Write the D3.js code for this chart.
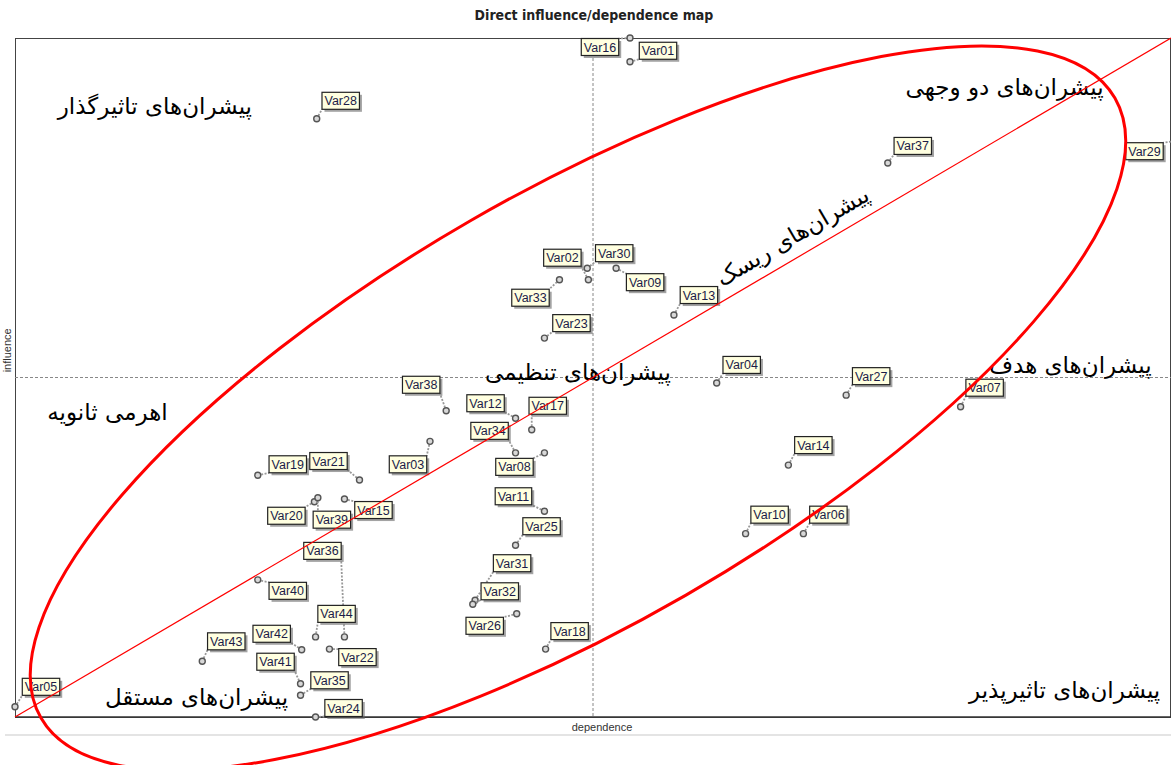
<!DOCTYPE html>
<html lang="fa">
<head>
<meta charset="UTF-8">
<title>Direct influence/dependence map</title>
<script src="https://d3js.org/d3.v7.min.js"></script>
<style>
  html, body { margin: 0; padding: 0; background: #fff; overflow: hidden; }
  svg { display: block; }
  .title { font-family: 'Liberation Sans Narrow', 'Arial Narrow', 'DejaVu Sans Condensed', sans-serif; font-weight: bold; font-size: 14px; fill: #222; }
  .axis-name { font-family: 'Liberation Sans', Arial, sans-serif; font-size: 11px; fill: #333; }
  .var-label { font-family: 'Liberation Sans', Arial, sans-serif; font-size: 12.5px; fill: #1c1c48; }
  .zone { font-family: 'DejaVu Sans', sans-serif; font-size: 23px; fill: #000; }
</style>
</head>
<body>
<div id="chart"></div>
<script>
// variables of the MICMAC direct map
const variables = ['Var01','Var02','Var03','Var04','Var05','Var06','Var07','Var08','Var09','Var10',
  'Var11','Var12','Var13','Var14','Var15','Var16','Var17','Var18','Var19','Var20',
  'Var21','Var22','Var23','Var24','Var25','Var26','Var27','Var28','Var29','Var30',
  'Var31','Var32','Var33','Var34','Var35','Var36','Var37','Var38','Var39','Var40',
  'Var41','Var42','Var43','Var44'];
// dependence (x), scaled 0-100
const dependence = [53.2, 49.6, 35.9, 60.7, 0.0, 68.2, 81.8, 45.8, 52.0, 63.2,
  45.8, 43.3, 57.0, 66.9, 28.5, 53.2, 44.7, 45.9, 21.0, 25.9,
  29.8, 27.2, 45.8, 26.0, 43.3, 43.4, 71.9, 26.1, 100.3, 49.5,
  39.8, 39.6, 47.1, 43.3, 24.7, 28.5, 75.5, 37.3, 26.2, 21.0,
  24.7, 24.8, 16.2, 26.0];
// influence (y), scaled 0-100
const influence = [96.5, 64.4, 40.6, 49.2, 1.5, 27.0, 45.7, 38.9, 66.1, 27.0,
  30.3, 44.0, 59.2, 37.1, 32.1, 100.0, 42.3, 10.0, 35.6, 31.7,
  34.9, 10.0, 55.8, 0.0, 25.3, 15.2, 47.4, 88.1, 84.8, 66.1,
  17.2, 16.6, 64.4, 38.9, 3.2, 11.8, 81.6, 45.1, 32.3, 20.2,
  4.9, 9.9, 8.2, 11.8];
const meanDependence = 50;
const meanInfluence = 50;

// where each tag sits relative to its point (px)
const labelOffsets = [[28,-11],[-26,-22],[-22,23],[25,-18],[26,-20],[25,-19],[24,-19],[-30,14],[29,14],[24,-19],
  [-31,-15],[-30,-15],[25,-20],[25,-20],[29,11],[-30,9],[16,-24],[24,-18],[30,-11],[-28,14],
  [-31,-19],[28,8],[27,-15],[28,-9],[26,-19],[-32,12],[25,-19],[24,-18],[-30,10],[27,-15],
  [37,-37],[27,-13],[-29,18],[-26,-22],[29,-15],[-22,-86],[25,-17],[-25,-26],[14,22],[30,11],
  [-25,-22],[-30,-16],[24,-20],[21,-23]];

// zone names written on the map
const zoneNames = ['پیشران\u200cهای تاثیرگذار', 'پیشران\u200cهای دو وجهی', 'پیشران\u200cهای ریسک',
  'پیشران\u200cهای تنظیمی', 'پیشران\u200cهای هدف', 'اهرمی ثانویه',
  'پیشران\u200cهای مستقل', 'پیشران\u200cهای تاثیرپذیر'];
const zoneDependence = [12.1, 85.6, 67.6, 48.7, 91.3, 8.0, 15.7, 90.8];
const zoneInfluence = [88.8, 91.6, 69.8, 49.6, 50.7, 43.7, 1.8, 2.8];

const width = 1171, height = 765;
const margin = { top: 38, right: 0, bottom: 48, left: 15 };

const svg = d3.select('#chart').append('svg')
  .attr('width', width)
  .attr('height', height);

const x = d3.scaleLinear().domain([0, 100]).range([margin.left, width - margin.right]);
const y = d3.scaleLinear().domain([0, 100]).range([height - margin.bottom, margin.top]);

// title
svg.append('text')
  .attr('class', 'title')
  .attr('x', 594).attr('y', 20)
  .attr('text-anchor', 'middle')
  .text('Direct influence/dependence map');

// plot frame
svg.append('rect')
  .attr('x', x(0) + 0.5).attr('y', y(100) + 0.5)
  .attr('width', x(100) - x(0) - 1).attr('height', y(0) - y(100))
  .attr('fill', 'none').attr('stroke', '#444').attr('stroke-width', 1);
svg.append('line')
  .attr('x1', x(0)).attr('x2', x(100))
  .attr('y1', y(0)).attr('y2', y(0))
  .attr('stroke', '#333').attr('stroke-width', 1.5);

// axis names
svg.append('text')
  .attr('class', 'axis-name')
  .attr('x', x(meanDependence) + 9).attr('y', y(0) + 14)
  .attr('text-anchor', 'middle')
  .text('dependence');
svg.append('text')
  .attr('class', 'axis-name')
  .attr('transform', `translate(11,${y(54)}) rotate(-90)`)
  .attr('text-anchor', 'middle')
  .text('influence');

svg.append('line')
  .attr('x1', 5).attr('x2', width)
  .attr('y1', y(0) + 18).attr('y2', y(0) + 18)
  .attr('stroke', '#e4e4e4').attr('stroke-width', 2);

// mean lines
svg.append('line')
  .attr('x1', x(meanDependence)).attr('x2', x(meanDependence))
  .attr('y1', y(100)).attr('y2', y(0))
  .attr('stroke', '#888').attr('stroke-dasharray', '3,2');
svg.append('line')
  .attr('x1', x(0)).attr('x2', x(100))
  .attr('y1', y(meanInfluence)).attr('y2', y(meanInfluence))
  .attr('stroke', '#888').attr('stroke-dasharray', '3,2');

// zone names
const diagAngle = Math.atan2(y(100) - y(0), x(100) - x(0)) * 180 / Math.PI;
zoneNames.forEach((name, i) => {
  const t = svg.append('text')
    .attr('class', 'zone')
    .attr('text-anchor', 'middle')
    .text(name);
  if (i === 2) {
    t.attr('transform', `translate(${x(zoneDependence[i])},${y(zoneInfluence[i])}) rotate(${diagAngle})`);
  } else {
    t.attr('x', x(zoneDependence[i])).attr('y', y(zoneInfluence[i]));
  }
});

// points + tags
const points = variables.map((name, i) => ({
  name: name,
  px: x(dependence[i]),
  py: y(influence[i]),
  lx: x(dependence[i]) + labelOffsets[i][0],
  ly: y(influence[i]) + labelOffsets[i][1]
}));

const boxH = 17;
const tagLayer = svg.append('g');

// measure text first so the boxes fit
const tags = tagLayer.selectAll('g.tag')
  .data(points)
  .enter().append('g')
  .attr('class', 'tag');

const tagText = tags.append('text')
  .attr('class', 'var-label')
  .attr('x', d => d.lx)
  .attr('y', d => d.ly + 4.5)
  .attr('text-anchor', 'middle')
  .text(d => d.name);

tagText.each(function(d) {
  d.w = this.getComputedTextLength() + 5;
  d.bx0 = d.lx - d.w / 2;
  d.by0 = d.ly - boxH / 2;
  // connector ends on the edge of the box nearest the point
  d.cx = Math.max(d.bx0, Math.min(d.bx0 + d.w, d.px));
  d.cy = Math.max(d.by0, Math.min(d.by0 + boxH, d.py));
});

tags.insert('line', 'text')
  .attr('x1', d => d.px).attr('y1', d => d.py)
  .attr('x2', d => d.cx).attr('y2', d => d.cy)
  .attr('stroke', '#999').attr('stroke-width', 1.8)
  .attr('stroke-dasharray', '2,1.5');

tags.insert('circle', 'text')
  .attr('cx', d => d.px).attr('cy', d => d.py)
  .attr('r', 3)
  .attr('fill', '#d8d8d8').attr('stroke', '#555').attr('stroke-width', 1.4);

tags.insert('rect', 'text')
  .attr('x', d => d.bx0 + 2.5).attr('y', d => d.by0 + 2.5)
  .attr('width', d => d.w).attr('height', boxH)
  .attr('fill', '#666').attr('opacity', 0.6);

tags.insert('rect', 'text')
  .attr('x', d => d.bx0).attr('y', d => d.by0)
  .attr('width', d => d.w).attr('height', boxH)
  .attr('fill', '#ffffe0').attr('stroke', '#222').attr('stroke-width', 1.2);

// red diagonal and the hand-drawn ellipse on top
svg.append('line')
  .attr('x1', x(0)).attr('y1', y(0))
  .attr('x2', x(100)).attr('y2', y(100))
  .attr('stroke', '#ff0000').attr('stroke-width', 1.2);

const ellipseCenter = [48.7, 45.5];
svg.append('ellipse')
  .attr('transform', `translate(${x(ellipseCenter[0])},${y(ellipseCenter[1])}) rotate(-30)`)
  .attr('rx', 620).attr('ry', 216)
  .attr('fill', 'none')
  .attr('stroke', '#ff0000').attr('stroke-width', 3);
</script>
</body>
</html>
